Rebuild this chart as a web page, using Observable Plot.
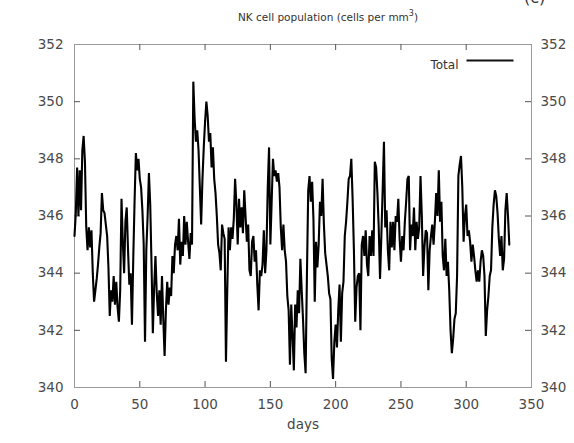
<!DOCTYPE html>
<html><head><meta charset="utf-8">
<script src="https://cdn.jsdelivr.net/npm/d3@7"></script>
<script src="https://cdn.jsdelivr.net/npm/@observablehq/plot@0.6"></script>
<style>
body{margin:0;background:#fff;font-family:"DejaVu Sans",sans-serif;}
#wrap{position:relative;width:574px;height:443px;overflow:hidden;background:#fff;}
#title{position:absolute;left:41px;width:574px;top:9px;text-align:center;font-size:10.5px;color:#333;}
#title sup{font-size:8px;}
#corner{position:absolute;left:524px;top:-12px;font-size:16px;color:#333;}
#chart{position:absolute;left:0;top:36px;}
</style></head><body>
<div id="wrap">
<div id="title">NK cell population (cells per mm<sup>3</sup>)</div>
<div id="corner">(c)</div>
<div id="chart"></div>
</div>
<script>
const seriesName = "Total";
const xLabel = "days";
const xTicks = [0, 50, 100, 150, 200, 250, 300, 350];
const yTicks = [340, 342, 344, 346, 348, 350, 352];
const total = [
345.3,346.1,347.7,346.0,347.6,346.2,348.3,348.8,347.9,345.6,
344.8,345.6,344.9,345.5,344.0,343.0,343.4,343.8,344.3,344.9,
345.4,346.8,346.2,346.1,345.7,345.3,344.2,342.5,343.4,343.0,
343.9,342.9,343.7,342.8,342.3,343.4,346.6,345.1,344.0,345.8,
346.3,344.8,343.6,344.0,342.2,344.5,346.5,348.2,347.6,348.0,
347.3,347.0,346.2,345.0,341.6,344.8,346.0,347.5,346.4,344.3,
341.9,343.5,344.6,343.3,342.5,343.4,342.2,343.9,342.4,341.1,
342.7,343.7,342.9,343.5,343.2,344.6,344.0,345.0,345.3,344.8,
345.9,344.3,345.1,344.6,346.0,345.0,345.8,345.1,344.5,345.4,
345.0,350.7,349.4,348.6,349.0,348.3,347.0,345.7,347.3,348.4,
349.3,350.0,349.5,348.6,348.9,347.7,348.4,347.3,346.8,346.0,
345.0,344.7,344.1,345.7,345.4,345.2,340.9,343.4,345.6,344.8,
345.6,345.2,345.9,347.3,346.4,345.0,346.6,345.6,346.3,345.4,
346.9,346.0,345.1,345.7,344.1,343.9,345.1,345.3,344.4,344.8,
343.6,342.7,344.1,343.9,344.3,345.5,344.0,344.8,347.0,348.4,
345.0,346.5,348.0,347.4,347.6,347.2,347.5,347.0,345.6,344.8,
345.7,344.8,344.4,343.2,342.7,340.8,342.9,341.8,340.6,342.9,
342.1,343.4,342.6,344.5,343.4,342.4,341.2,340.5,343.9,346.9,
347.4,346.5,347.2,345.9,343.0,345.1,344.2,345.0,346.5,346.0,
347.3,345.7,344.7,344.3,343.9,343.3,343.1,341.0,340.3,341.6,
342.2,341.4,342.7,343.6,341.6,343.3,343.7,345.3,345.8,346.5,
347.3,347.4,348.0,346.6,344.8,342.3,343.5,343.9,344.0,342.0,
345.0,345.3,344.6,345.5,344.3,343.9,345.3,344.6,345.5,344.6,
347.9,347.7,346.8,345.6,343.8,345.3,346.9,348.6,345.6,346.2,
344.8,344.1,345.8,344.9,345.8,344.8,346.0,345.8,346.6,345.2,
344.4,345.3,344.8,345.8,346.5,347.3,347.4,344.8,345.7,345.3,
346.3,344.8,345.8,345.2,345.6,347.4,346.0,343.9,344.9,345.5,
345.4,343.4,344.8,345.3,345.7,345.0,345.8,346.8,346.0,347.6,
345.8,346.5,344.6,344.1,345.2,343.9,344.4,343.4,342.0,341.2,
341.7,342.4,342.6,343.9,347.4,347.8,348.1,347.0,345.1,346.0,
346.4,345.3,345.5,345.1,344.4,345.0,344.6,344.1,343.7,344.1,
343.7,344.4,344.8,344.6,343.9,341.8,342.7,343.2,343.9,344.1,
345.6,346.4,346.9,346.7,346.1,345.2,344.6,345.3,344.1,344.5,
346.2,346.8,346.0,345.0
];
const days = d3.range(total.length);
const data = days.map((d, i) => ({day: d, value: total[i]}));

const W = 574, H = 407, mL = 74, mR = 43, mT = 8, mB = 56;
const pw = W - mL - mR, ph = H - mT - mB;
const inner = xTicks.slice(1, -1), innerY = yTicks.slice(1, -1);

const chart = Plot.plot({
  width: W, height: H,
  marginLeft: mL, marginRight: mR, marginTop: mT, marginBottom: mB,
  x: {domain: [0, 350]},
  y: {domain: [340, 352]},
  style: {fontFamily: "DejaVu Sans", fontSize: "13.5px", color: "#4a4a4a", background: "#fff"},
  marks: [
    Plot.frame({stroke: "#999", strokeWidth: 1}),
    Plot.tickX(inner, {x: d => d, insetTop: ph - 6, stroke: "#555"}),
    Plot.tickX(inner, {x: d => d, insetBottom: ph - 6, stroke: "#555"}),
    Plot.tickY(innerY, {y: d => d, insetRight: pw - 6, stroke: "#555"}),
    Plot.tickY(innerY, {y: d => d, insetLeft: pw - 6, stroke: "#555"}),
    Plot.axisX(xTicks, {anchor: "bottom", tickSize: 0, tickPadding: 12, label: null}),
    Plot.axisY(yTicks, {anchor: "left", tickSize: 0, tickPadding: 11, label: null}),
    Plot.axisY(yTicks, {anchor: "right", tickSize: 0, tickPadding: 9, label: null}),
    Plot.text([xLabel], {frameAnchor: "bottom", dy: 41, fill: "#444", fontSize: 13.5}),
    Plot.line(data, {x: "day", y: "value", stroke: "#000", strokeWidth: 2.1, strokeLinejoin: "miter"}),
    Plot.text([seriesName], {frameAnchor: "top-right", dx: -73, dy: 16, textAnchor: "end", fill: "#333", fontSize: 12}),
    Plot.frame({insetLeft: 466 - mL, insetRight: W - mR - 513, insetTop: 15, insetBottom: ph - 17, fill: "#111", stroke: null})
  ]
});
document.getElementById("chart").appendChild(chart);
</script>
</body></html>
